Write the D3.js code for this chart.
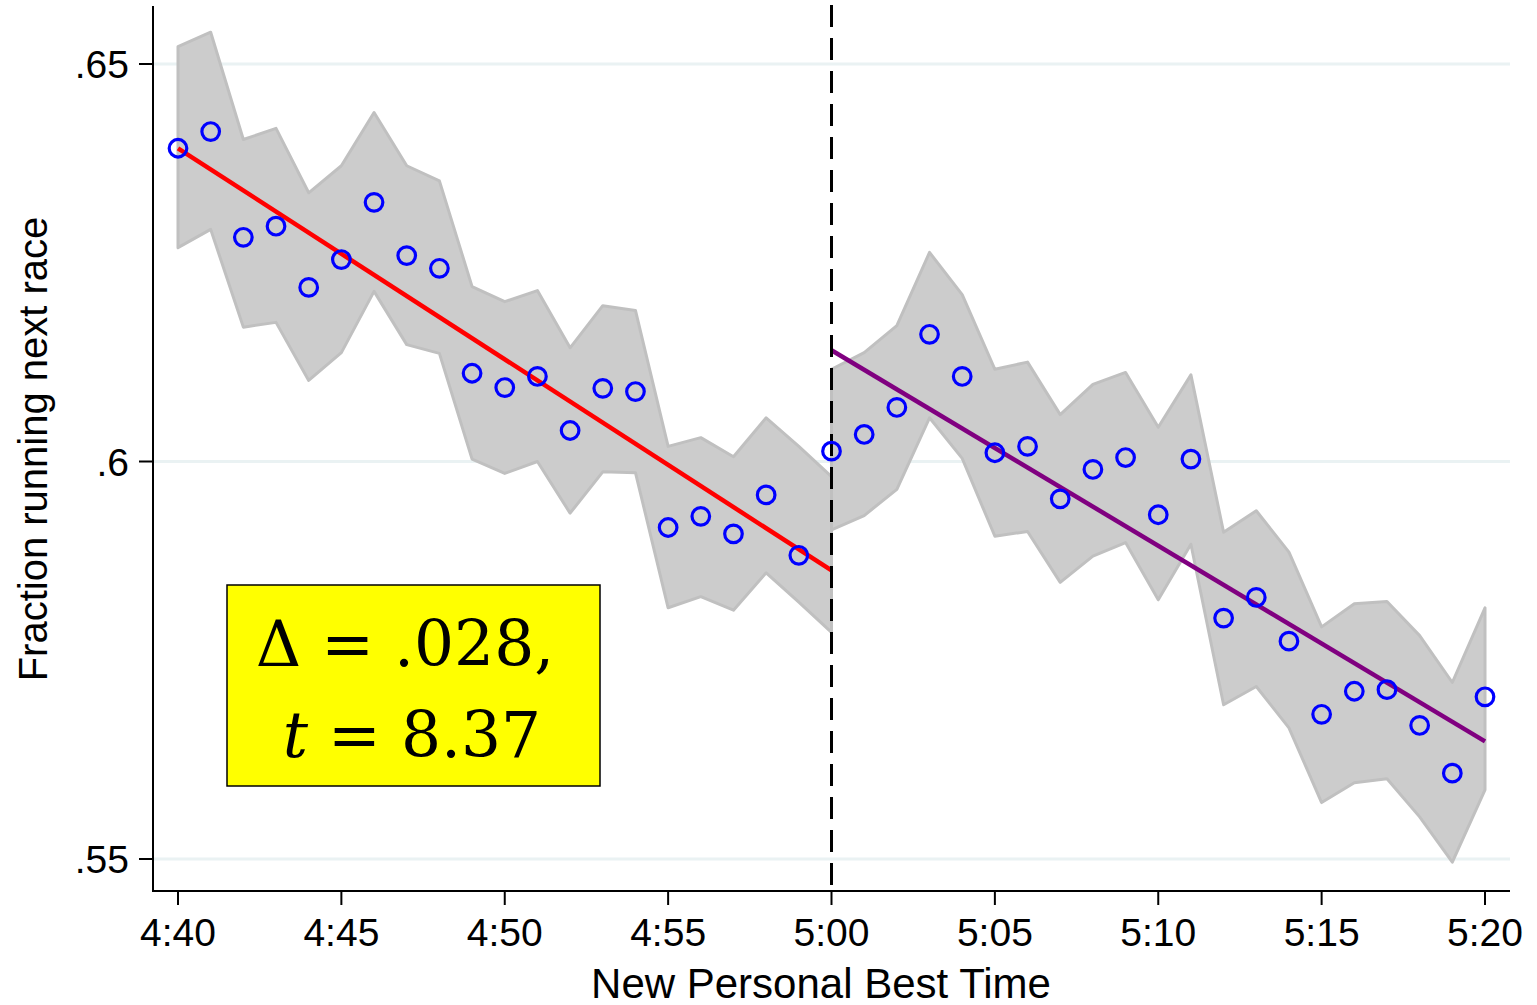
<!DOCTYPE html>
<html>
<head>
<meta charset="utf-8">
<script src="https://cdn.jsdelivr.net/npm/d3@7"></script>
<style>
  body { margin: 0; background: #fff; }
  text { font-family: "Liberation Sans", Arial, sans-serif; }
</style>
</head>
<body>
<div class="rd-plot"></div>
<script>
// minutes since 0:00 (4:40 .. 5:20)
const times = d3.range(280, 321);
const cutoff = 300;

// binned means
const fraction = [
  0.6394, 0.6415, 0.6282, 0.6296, 0.6219, 0.6254, 0.6326, 0.6259, 0.6243, 0.6111,
  0.6093, 0.6107, 0.6039, 0.6092, 0.6088, 0.5917, 0.5931, 0.5909, 0.5958, 0.5882,
  0.6013, 0.6034, 0.6068, 0.6160, 0.6107, 0.6011, 0.6019, 0.5953, 0.5990, 0.6005,
  0.5933, 0.6003, 0.5803, 0.5829, 0.5774, 0.5682, 0.5711, 0.5713, 0.5668, 0.5608,
  0.5704
];

// confidence band, left side (4:40 .. 5:00)
const leftUpper = [0.6522, 0.6540, 0.6405, 0.6419, 0.6338, 0.6372, 0.6439, 0.6372, 0.6353, 0.6220,
  0.6201, 0.6215, 0.6143, 0.6196, 0.6190, 0.6019, 0.6030, 0.6006, 0.6055, 0.6019, 0.5981];
const leftLower = [0.6269, 0.6292, 0.6169, 0.6175, 0.6102, 0.6137, 0.6214, 0.6147, 0.6136, 0.6003,
  0.5985, 0.6000, 0.5935, 0.5987, 0.5986, 0.5816, 0.5830, 0.5813, 0.5860, 0.5823, 0.5785];
// right side (5:00 .. 5:20)
const rightUpper = [0.6116, 0.6137, 0.6171, 0.6263, 0.6210, 0.6116, 0.6125, 0.6059, 0.6097, 0.6112,
  0.6043, 0.6109, 0.5911, 0.5938, 0.5886, 0.5792, 0.5821, 0.5824, 0.5781, 0.5722, 0.5816];
const rightLower = [0.5914, 0.5932, 0.5965, 0.6055, 0.6004, 0.5906, 0.5912, 0.5848, 0.5881, 0.5898,
  0.5826, 0.5896, 0.5694, 0.5717, 0.5665, 0.5571, 0.5596, 0.5601, 0.5553, 0.5496, 0.5587];

// linear fits [start, end]
const leftFit = [0.6394, 0.5863];
const rightFit = [0.6140, 0.5648];

const yTicks = [0.55, 0.6, 0.65];
const yTickLabels = [".55", ".6", ".65"];
const xTicks = [280, 285, 290, 295, 300, 305, 310, 315, 320];

const width = 1537;
const height = 1005;

const svg = d3.select('.rd-plot')
  .append('svg')
  .attr('width', width)
  .attr('height', height);

const x = d3.scaleLinear().domain([280, 320]).range([178, 1485]);
const y = d3.scaleLinear().domain([0.55, 0.65]).range([859, 64]);

const axisLeft = 153, axisBottom = 891, plotRight = 1510;

//Gridlines
svg.selectAll('.grid')
  .data(yTicks)
  .enter()
  .append('line')
  .attr('x1', axisLeft)
  .attr('x2', plotRight)
  .attr('y1', d => y(d))
  .attr('y2', d => y(d))
  .attr('stroke', '#eaf2f3')
  .attr('stroke-width', 3);

//Bands
const leftTimes = times.filter(t => t <= cutoff);
const rightTimes = times.filter(t => t >= cutoff);

const area = d3.area()
  .x(d => x(d.t))
  .y0(d => y(d.lo))
  .y1(d => y(d.hi));

const leftBand = leftTimes.map((t, i) => ({t: t, lo: leftLower[i], hi: leftUpper[i]}));
const rightBand = rightTimes.map((t, i) => ({t: t, lo: rightLower[i], hi: rightUpper[i]}));

[leftBand, rightBand].forEach(b => {
  svg.append('path')
    .datum(b)
    .attr('d', area)
    .attr('fill', '#cccccc')
    .attr('stroke', '#c0c0c0')
    .attr('stroke-width', 3)
    .attr('stroke-linejoin', 'round');
});

//Fit lines
svg.append('line')
  .attr('x1', x(280)).attr('y1', y(leftFit[0]))
  .attr('x2', x(cutoff)).attr('y2', y(leftFit[1]))
  .attr('stroke', '#ff0000')
  .attr('stroke-width', 4.5);

svg.append('line')
  .attr('x1', x(cutoff)).attr('y1', y(rightFit[0]))
  .attr('x2', x(320)).attr('y2', y(rightFit[1]))
  .attr('stroke', '#800080')
  .attr('stroke-width', 4.5);

//Cutoff line
svg.append('line')
  .attr('x1', x(cutoff)).attr('x2', x(cutoff))
  .attr('y1', 5).attr('y2', axisBottom)
  .attr('stroke', '#000')
  .attr('stroke-width', 3)
  .attr('stroke-dasharray', '22,11');

//Points
svg.selectAll('.pt')
  .data(times)
  .enter()
  .append('circle')
  .attr('cx', d => x(d))
  .attr('cy', (d, i) => y(fraction[i]))
  .attr('r', 8.8)
  .attr('fill', 'none')
  .attr('stroke', '#0000ff')
  .attr('stroke-width', 3.2);

//Axes
svg.append('line')
  .attr('x1', axisLeft).attr('x2', axisLeft)
  .attr('y1', 6).attr('y2', axisBottom + 1)
  .attr('stroke', '#000').attr('stroke-width', 2);
svg.append('line')
  .attr('x1', axisLeft - 1).attr('x2', plotRight)
  .attr('y1', axisBottom).attr('y2', axisBottom)
  .attr('stroke', '#000').attr('stroke-width', 2);

svg.selectAll('.ytick')
  .data(yTicks)
  .enter()
  .append('line')
  .attr('x1', axisLeft - 14).attr('x2', axisLeft)
  .attr('y1', d => y(d)).attr('y2', d => y(d))
  .attr('stroke', '#000').attr('stroke-width', 2);

svg.selectAll('.ylab')
  .data(yTicks)
  .enter()
  .append('text')
  .attr('x', 129)
  .attr('y', d => y(d) + 14)
  .attr('text-anchor', 'end')
  .attr('font-size', '39px')
  .text((d, i) => yTickLabels[i]);

const fmt = m => Math.floor(m / 60) + ':' + d3.format('02d')(m % 60);

svg.selectAll('.xtick')
  .data(xTicks)
  .enter()
  .append('line')
  .attr('x1', d => x(d)).attr('x2', d => x(d))
  .attr('y1', axisBottom).attr('y2', axisBottom + 14)
  .attr('stroke', '#000').attr('stroke-width', 2);

svg.selectAll('.xlab')
  .data(xTicks)
  .enter()
  .append('text')
  .attr('x', d => x(d))
  .attr('y', 946)
  .attr('text-anchor', 'middle')
  .attr('font-size', '39px')
  .text(d => fmt(d));

//Titles
svg.append('text')
  .attr('x', 821)
  .attr('y', 998)
  .attr('text-anchor', 'middle')
  .attr('font-size', '42px')
  .text('New Personal Best Time');

svg.append('text')
  .attr('transform', 'translate(47,449) rotate(-90)')
  .attr('text-anchor', 'middle')
  .attr('font-size', '40px')
  .text('Fraction running next race');

//Annotation box
svg.append('rect')
  .attr('x', 227).attr('y', 585)
  .attr('width', 373).attr('height', 201)
  .attr('fill', '#ffff00')
  .attr('stroke', '#000')
  .attr('stroke-width', 1.5);

const note = svg.append('g')
  .attr('font-size', '63px');

note.append('text')
  .attr('x', 405).attr('y', 666)
  .attr('text-anchor', 'middle')
  .style('font-family', '"DejaVu Serif", serif')
  .text('Δ = .028,');

const l2 = note.append('text')
  .attr('x', 412).attr('y', 757)
  .attr('text-anchor', 'middle')
  .style('font-family', '"DejaVu Serif", serif');
l2.append('tspan').attr('font-style', 'italic').text('t');
l2.append('tspan').text(' = 8.37');
</script>
</body>
</html>
